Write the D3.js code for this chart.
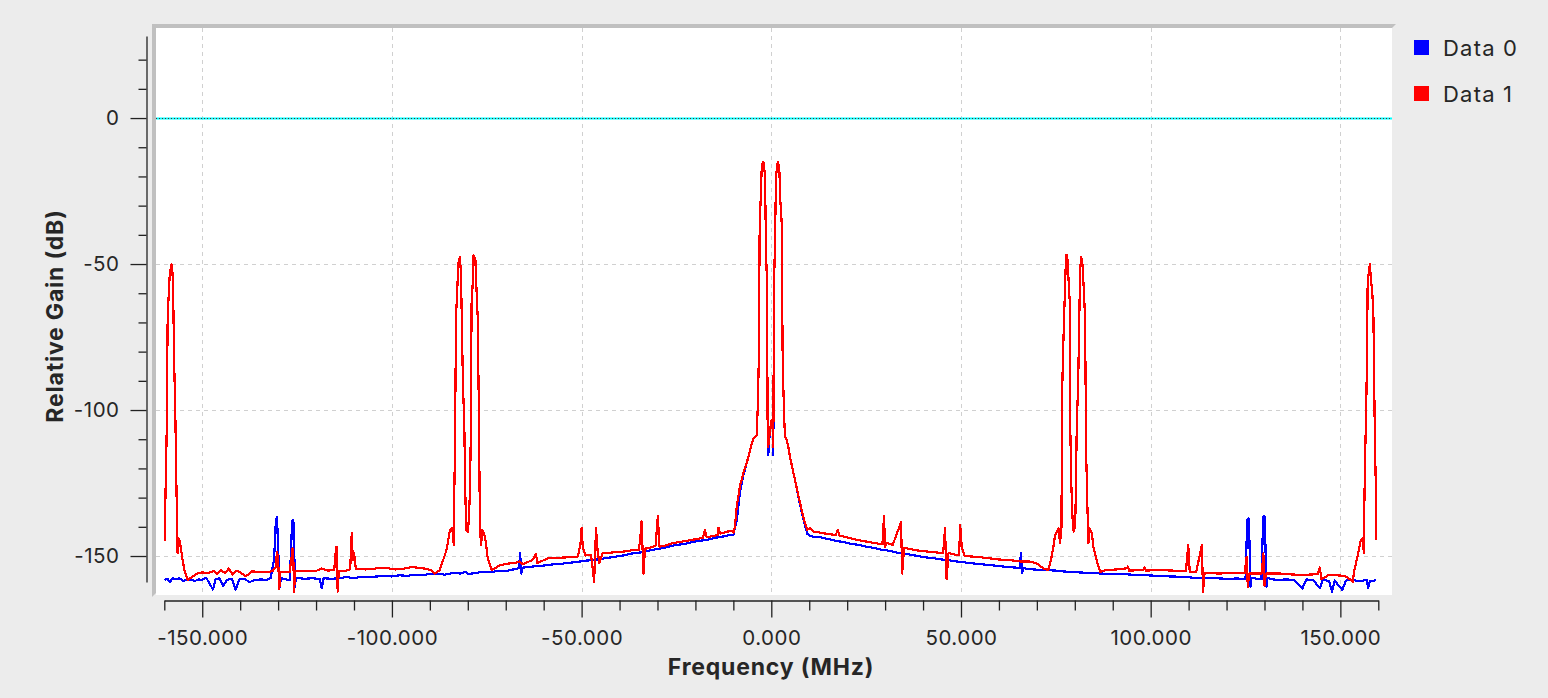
<!DOCTYPE html>
<html><head><meta charset="utf-8">
<script src="https://cdn.jsdelivr.net/npm/d3@7"></script>
<style>
html,body{margin:0;padding:0;background:#ececec;}
svg{display:block;font-family:Inter,"Noto Sans",sans-serif;}
</style></head><body>
<svg id="c" width="1548" height="698"></svg>
<script>
// ---- data ----
const seriesNames = ["Data 0", "Data 1"];
const seriesColors = ["#0000ff", "#ff0000"];
const xMajorTicks = [-150, -100, -50, 0, 50, 100, 150];
const xMinorTicks = [-160,-140,-130,-120,-110,-90,-80,-70,-60,-40,-30,-20,-10,10,20,30,40,60,70,80,90,110,120,130,140,160];
const yMajorTicks = [0, -50, -100, -150];
const yMinorTicks = [20, 10, -10, -20, -30, -40, -60, -70, -80, -90, -110, -120, -130, -140];
const referenceLevel = 0;

// Data 1 (red): frequency (MHz) and relative gain (dB)
const freq1 = [-159.9,-159.8,-159.7,-159.4,-159.1,-158.8,-158.6,-158.3,-158.1,-157.9,-157.7,-157.4,-157.1,-156.9,-156.7,-156.5,-156.3,-155.9,-155.5,-155.1,-154.6,-153.8,-152.7,-151.5,-150,-148.5,-147,-146,-145,-144,-143,-142,-141,-140,-138.5,-137,-135,-133,-131.5,-130.6,-130.3,-130.0,-129.7,-129.4,-128,-127,-126.5,-126.2,-126.0,-125.8,-125.5,-124,-122,-120,-118.5,-117,-115.2,-114.9,-114.6,-114.3,-114.0,-112,-111,-110.6,-110.3,-110.0,-109.5,-107,-105,-103,-101,-99,-97,-95,-93,-91,-89.5,-88.7,-87.4,-86.5,-85.6,-84.7,-84.1,-83.7,-83.6,-83.4,-83.1,-82.8,-82.5,-82.1,-81.8,-81.5,-81.3,-80.9,-80.7,-80.4,-80.0,-79.7,-79.4,-79.2,-79.0,-78.7,-78.5,-78.0,-77.7,-77.4,-77.1,-76.8,-76.5,-76.2,-75.7,-75.2,-74.8,-74.3,-73.7,-72.8,-71.5,-70,-68.9,-67,-66.3,-65.5,-63,-62,-61.7,-59,-56,-53,-51,-50.3,-50.0,-49.7,-49,-47.5,-46.7,-46.2,-45.8,-45.3,-44.5,-42,-39,-36,-35,-34.6,-34.2,-33.7,-33.3,-32,-30.5,-29.9,-29.5,-28.5,-26,-21,-18,-17.5,-17,-14,-13.9,-13.5,-10.5,-10.0,-9.6,-9.1,-8.25,-7.4,-6.5,-5.6,-4.75,-3.85,-3.6,-3.3,-3.06,-2.8,-2.5,-2.1,-1.66,-1.4,-1.13,-0.95,-0.8,-0.34,0.1,0.37,0.53,0.71,0.98,1.24,1.69,2.1,2.37,2.74,3.0,3.35,3.6,4.06,4.48,4.93,5.38,6.25,7.1,8.0,8.9,9.5,10.2,11.1,13,15,17,17.5,18,21,24,27,29.3,29.7,30.0,30.3,32,34.2,34.5,35,38,42,45.3,45.8,46.2,46.7,49.5,49.8,50.2,51,55,60,63,65.8,68.2,70,71.7,73.0,73.7,74.3,74.8,75.7,76.1,76.5,76.6,76.9,77.2,77.4,77.7,78.0,78.4,78.7,78.8,79.1,79.4,79.7,80.1,80.3,80.5,80.9,81.1,81.4,81.7,82.1,82.4,82.7,83.0,83.3,83.6,83.8,84.5,84.9,85.5,86.1,86.7,88.4,91.1,93.7,94,94.3,98.1,98.4,98.7,102,106,109.3,109.9,110.3,112,113.5,113.8,114.2,118,122,124.8,125.3,125.6,126,129.3,129.7,130.0,130.4,134,137,140,144,144.6,145,147,149,151,152.1,153.3,153.6,154.2,154.8,155.4,155.9,156.2,156.3,156.5,156.8,157.0,157.2,157.5,157.8,158.0,158.4,158.7,159.1,159.4,159.5];
const gain1 = [-144.9,-144.3,-129.7,-110,-66.8,-59.8,-54.3,-51.5,-50.1,-51.8,-56.4,-83.6,-100.7,-117.7,-134.2,-149,-143.8,-145,-148.5,-152,-155.4,-158.2,-157.2,-156.1,-155.6,-155.9,-155.2,-156.1,-154.8,-155.9,-154.3,-156.4,-155.0,-155.6,-157.0,-155.3,-155.4,-155.5,-155.2,-153.7,-148.5,-151.0,-161.3,-155.4,-155.4,-155.6,-151,-147.4,-150,-162.2,-155.0,-155.2,-155.1,-155.1,-154.3,-155.0,-154.8,-149.5,-146.8,-162.2,-155.0,-155.0,-154.5,-142.2,-151.5,-149,-154.4,-154.6,-154.4,-154.0,-154.2,-154.6,-154.4,-153.8,-154.0,-154.4,-155.0,-156.0,-154.8,-151.4,-147.9,-141.1,-140.5,-146.2,-132,-114.8,-68,-59.5,-49.8,-47.5,-53.2,-74.9,-89.7,-106.8,-126.3,-141.1,-141.7,-137.1,-126.3,-106.8,-63.5,-56.6,-46.9,-48.6,-58.9,-68,-97.7,-140.5,-146.2,-141.1,-142.2,-145.6,-150.2,-152.5,-154.8,-154.2,-153.1,-152.8,-152.5,-152.2,-151.9,-152.8,-151.4,-149.3,-152.5,-150.8,-150.6,-150.4,-150.2,-146,-140.3,-147,-149.8,-149.6,-158.8,-140.5,-148,-152.4,-149.1,-148.8,-148.5,-147.9,-148,-145,-138.2,-156,-147.5,-147.2,-146.5,-136.3,-146.8,-146.6,-145.6,-144.5,-143.8,-141.1,-143.6,-142.8,-140.3,-142.3,-141.3,-142,-140,-133,-126,-121.7,-118.3,-113.7,-109.7,-108.6,-100,-83.5,-36.6,-28,-16.1,-15,-19.5,-44,-57.8,-110.3,-112.6,-106.8,-103.4,-106.8,-112.6,-57.8,-41.8,-20.1,-15,-16.7,-28,-36,-83.5,-100.6,-109.1,-110.3,-112.6,-116,-118.8,-124,-129.1,-134.2,-138.8,-141.1,-140.3,-141.7,-142.0,-142.5,-142.8,-141,-143,-144.0,-144.8,-145.5,-146,-136.3,-147,-145.5,-146.2,-138.5,-156,-147.2,-148,-148.6,-149,-140.5,-158,-149,-149.8,-139.3,-147,-150,-150.4,-151.2,-151.4,-151.9,-151.9,-152.6,-154.2,-154.8,-151.4,-147.4,-142.8,-140.5,-145.6,-140,-97.7,-80.6,-67.5,-58.9,-46.9,-46.9,-56.6,-63.5,-105.7,-126.3,-137.1,-141.7,-140,-126.3,-106.8,-89.7,-74.9,-52.1,-47.5,-50.9,-60,-68,-114.8,-132,-145.6,-140.5,-142.2,-146.8,-150.2,-153.1,-155.4,-154.8,-154.6,-154.2,-153.6,-155,-154.8,-153.8,-155,-154.8,-155.0,-155.1,-146.2,-155.5,-155.5,-146.2,-162.2,-155.8,-156,-155.8,-155.8,-150.2,-160.5,-156,-156,-149.1,-160.1,-156,-156,-156.3,-156.5,-156.2,-153.9,-158,-156.4,-156.6,-156.8,-157.6,-158.8,-155.4,-151.9,-148.5,-144.5,-143.9,-149.1,-134.2,-117.7,-100.6,-83.5,-56.6,-52.6,-50,-54.3,-59.5,-66.9,-110.3,-129.7,-144.5];

// Data 0 (blue): frequency (MHz) and relative gain (dB)
const freq0 = [-159.9,-159.2,-158.5,-157.8,-157,-156,-155,-154,-153,-152,-151,-150,-149,-148,-147.2,-146.5,-145.5,-144.5,-143.5,-142.2,-141.2,-140.2,-139,-137.5,-136,-134.5,-133,-132,-131.1,-130.8,-130.6,-130.3,-130.1,-129.8,-129.5,-129.3,-128,-126.9,-126.5,-126.3,-126.0,-125.8,-125.6,-125.3,-123,-121,-119,-118.5,-118.0,-116,-114,-112,-110,-108,-106,-104,-102,-100,-98,-96,-94,-92,-90,-88,-86,-84,-82,-80.5,-80,-78,-76,-74,-72,-70,-68,-66.5,-66.2,-65.9,-65.5,-63,-61,-59,-57,-55,-53,-51,-49,-47,-45,-43,-41,-39,-37,-35,-33,-31,-29,-27,-25,-23,-21,-19,-17,-15,-13,-11,-10.0,-9.6,-9.1,-8.25,-7.4,-6.5,-5.6,-4.75,-3.85,-3.6,-3.3,-3.06,-2.8,-2.5,-2.1,-1.66,-1.4,-1.13,-0.95,-0.8,-0.34,0.1,0.37,0.53,0.71,0.98,1.24,1.69,2.1,2.37,2.74,3.0,3.35,3.6,4.06,4.48,4.93,5.38,6.25,7.1,8.0,8.9,9.5,10.5,11.1,13,15,17,19,21,23,25,27,29,31,33,35,37,39,41,43,45,47,49,51,53,55,57,59,61,63,65.5,65.8,66.1,66.5,69,72,75,78,81,84,87,90,93,96,99,102,105,108,111,114,117,120,123,125,125.3,125.5,125.8,126.0,126.3,126.6,129.2,129.5,129.7,130.0,130.2,130.5,130.8,133,136,138,140,141,143,144.6,145.3,147,147.8,148.5,150.5,151.5,153,155,157,157.3,157.8,158.3,159.5];
const gain0 = [-158.2,-157.8,-158.9,-157.5,-158.0,-157.6,-158.5,-158.2,-158.0,-158.6,-158.0,-158.2,-157.4,-159.5,-161.5,-158.0,-157.6,-160.2,-158.2,-157.8,-161.6,-158.0,-157.8,-158.9,-158.2,-158.0,-158.2,-157.6,-151.4,-144.5,-137.7,-136.5,-143.4,-153.7,-160.5,-157.5,-158.0,-158.2,-144.5,-137.9,-137.7,-142.2,-160.5,-157.5,-157.8,-157.6,-157.9,-161.1,-157.6,-157.8,-157.6,-157.2,-157.6,-157.1,-157.3,-157.0,-156.9,-157.0,-156.6,-156.8,-156.4,-156.5,-156.2,-156.0,-156.4,-155.8,-156.0,-155.4,-156.2,-155.8,-155.4,-155.6,-155.0,-155.2,-154.6,-154.2,-148.9,-156.0,-154.0,-153.6,-153.4,-153.1,-152.8,-152.6,-152.3,-152.0,-151.6,-151.4,-151.0,-150.6,-150.2,-149.8,-149.2,-148.9,-148.4,-147.8,-147.4,-146.8,-146.2,-145.9,-145.3,-144.8,-144.5,-143.8,-143.4,-142.8,-142.8,-140.4,-137.7,-128,-122.5,-118.3,-113.7,-109.7,-108.6,-100,-83.5,-36.6,-28,-16.1,-15,-19.5,-44,-57.8,-110.3,-115.4,-106.8,-103.4,-106.8,-115.4,-57.8,-41.8,-20.1,-15,-16.7,-28,-36,-83.5,-100.6,-109.1,-110.3,-112.6,-116,-118.8,-124,-129.5,-134.8,-139.5,-142.5,-143.2,-143.4,-143.6,-144.2,-144.8,-145.2,-145.8,-146.2,-146.8,-147.2,-147.8,-148.2,-148.8,-149.2,-149.6,-150.1,-150.5,-150.8,-151.2,-151.5,-151.9,-152.2,-152.5,-152.8,-153.0,-153.3,-153.6,-153.8,-154.1,-148.9,-155.8,-154.2,-154.6,-154.8,-155.0,-155.4,-155.6,-155.8,-156.0,-156.2,-156.2,-156.5,-156.6,-156.8,-157.0,-157.1,-157.4,-157.6,-157.6,-157.8,-157.7,-158.0,-144.5,-137.5,-137.0,-143.0,-160.5,-157.5,-158.0,-144.0,-136.5,-136.3,-143.4,-160.5,-157.5,-158.2,-158.0,-158.4,-161.1,-158.0,-158.4,-161.1,-158.2,-158.5,-162.2,-158.4,-161.6,-158.4,-158.2,-158.6,-158.2,-161.0,-158.6,-158.5,-158.3];

const xTitle = "Frequency (MHz)";
const yTitle = "Relative Gain (dB)";

// ---- layout ----
const svg = d3.select("#c");
const plot = {left:156, top:28, right:1392, bottom:595};
const x = d3.scaleLinear().domain([-160, 160]).range([164.3, 1378.3]);
const y = d3.scaleLinear().domain([-158.9, 28.1]).range([582, 36]);
const textColor = "#262626";
const fontSize = 20.5;

// plot background & bevel border
svg.append("rect").attr("x", plot.left).attr("y", plot.top)
  .attr("width", plot.right - plot.left).attr("height", plot.bottom - plot.top).attr("fill", "#ffffff");
svg.append("path").attr("fill", "#c0c0c0")
  .attr("d", `M152,24 L${plot.right+4},24 L${plot.right},28 L156,28 L156,${plot.bottom-2} L152,${plot.bottom+2} Z`);

// grid
const grid = svg.append("g").attr("stroke", "#d0d0d0").attr("stroke-width", 1).attr("stroke-dasharray", "4,4");
xMajorTicks.forEach(t => grid.append("line")
  .attr("x1", Math.round(x(t)) + 0.5).attr("x2", Math.round(x(t)) + 0.5)
  .attr("y1", plot.top).attr("y2", plot.bottom));
yMajorTicks.forEach(t => grid.append("line")
  .attr("y1", Math.round(y(t)) + 0.5).attr("y2", Math.round(y(t)) + 0.5)
  .attr("x1", plot.left).attr("x2", plot.right));

// clip
svg.append("clipPath").attr("id", "clip").append("rect")
  .attr("x", plot.left).attr("y", plot.top).attr("width", plot.right - plot.left).attr("height", plot.bottom - plot.top);

// reference line (0 dB)
const ry = Math.round(y(referenceLevel)) + 0.5;
svg.append("line").attr("x1", plot.left).attr("x2", plot.right).attr("y1", ry).attr("y2", ry)
  .attr("stroke", "#00ffff").attr("stroke-width", 2);
svg.append("line").attr("x1", plot.left).attr("x2", plot.right).attr("y1", ry).attr("y2", ry)
  .attr("stroke", "#5a2a2a").attr("stroke-width", 1).attr("stroke-dasharray", "1,2");

// series lines
const series = [
  {f: freq0, g: gain0, color: seriesColors[0]},
  {f: freq1, g: gain1, color: seriesColors[1]}
];
const line = d3.line().x(d => x(d[0])).y(d => y(d[1]));
const lg = svg.append("g").attr("clip-path", "url(#clip)");
series.forEach(s => {
  const pts = s.f.map((f, i) => [f, s.g[i]]);
  lg.append("path").datum(pts).attr("d", line)
    .attr("fill", "none").attr("stroke", s.color).attr("stroke-width", 2.2)
    .attr("stroke-linejoin", "round").attr("shape-rendering", "crispEdges");
});

// axes
const yAxisG = svg.append("g").attr("transform", "translate(146.5,0)");
yAxisG.call(d3.axisLeft(y).tickValues(yMajorTicks).tickSize(16).tickSizeOuter(0).tickPadding(11).tickFormat(d => String(d)));
yAxisG.append("g").call(d3.axisLeft(y).tickValues(yMinorTicks).tickSize(8).tickSizeOuter(0).tickFormat(""))
  .select(".domain").remove();
const xAxisG = svg.append("g").attr("transform", "translate(0,600.5)");
xAxisG.call(d3.axisBottom(x).tickValues(xMajorTicks).tickSize(17).tickSizeOuter(0).tickPadding(13).tickFormat(d => d.toFixed(3)));
xAxisG.append("g").call(d3.axisBottom(x).tickValues(xMinorTicks).tickSize(10).tickSizeOuter(0).tickFormat(""))
  .select(".domain").remove();
svg.selectAll(".domain, .tick line").attr("stroke", "#222").attr("stroke-width", 1.3);
svg.selectAll(".tick text").attr("fill", textColor).attr("font-size", fontSize)
  .attr("letter-spacing", 0.5).attr("font-family", "Inter, 'Noto Sans', sans-serif");

// titles
svg.append("text").attr("x", 771).attr("y", 675).attr("text-anchor", "middle")
  .attr("font-size", 23).attr("font-weight", "bold").attr("letter-spacing", 0.8).attr("fill", textColor).text(xTitle);
svg.append("text").attr("transform", "translate(63,316) rotate(-90)").attr("text-anchor", "middle")
  .attr("font-size", 23).attr("font-weight", "bold").attr("letter-spacing", 0.8).attr("fill", textColor).text(yTitle);

// legend
const leg = svg.append("g");
seriesNames.forEach((n, i) => {
  const yy = 40 + i * 46;
  leg.append("rect").attr("x", 1414).attr("y", yy).attr("width", 15).attr("height", 15).attr("fill", seriesColors[i]);
  leg.append("text").attr("x", 1443).attr("y", yy + 16).attr("font-size", 22).attr("letter-spacing", 1.2)
    .attr("fill", textColor).text(n);
});
</script>
</body></html>
